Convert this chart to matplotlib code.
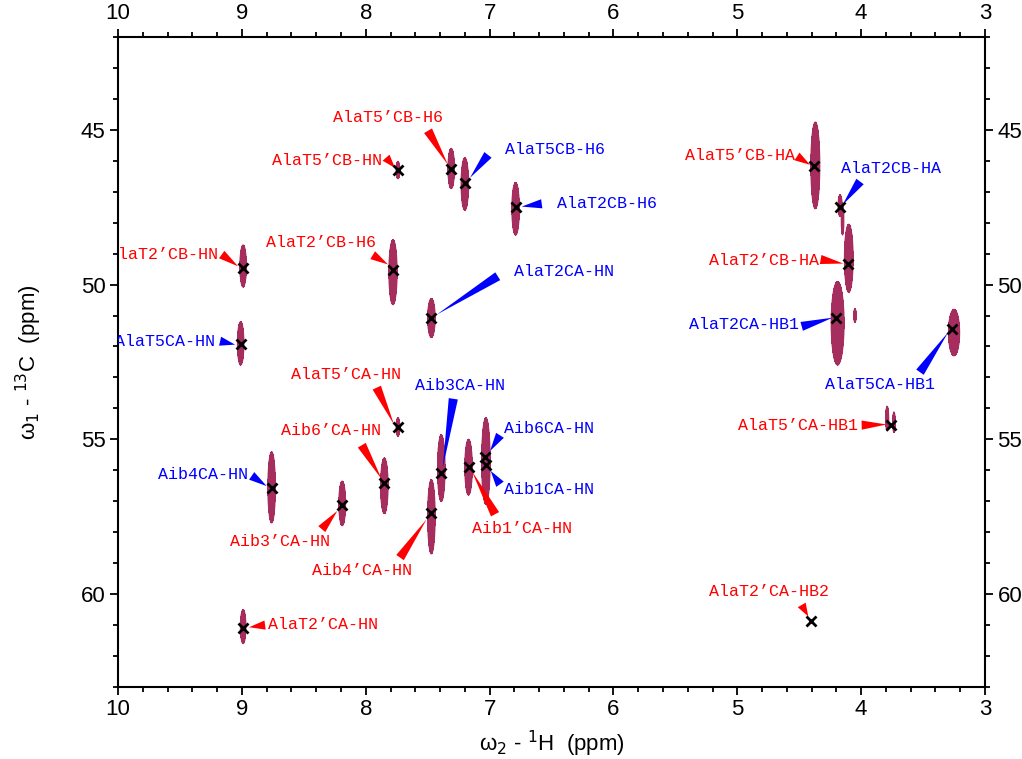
import numpy as np
import matplotlib
matplotlib.use("Agg")
import matplotlib.pyplot as plt
from matplotlib.ticker import MultipleLocator

# peak shapes: centre (1H, 13C) and half-extent of the outer contour (ppm)
peak_h  = [7.74, 7.31, 7.20, 6.79, 8.99, 7.78, 7.47, 9.01,
           4.37, 4.17, 4.15, 4.10, 4.19, 4.05, 3.25,
           7.74, 8.76, 8.19, 7.85, 7.47, 7.39, 7.17, 7.03,
           8.99, 3.79, 3.735]
peak_c  = [46.30, 46.25, 46.75, 47.55, 49.40, 49.60, 51.08, 51.90,
           46.15, 47.45, 47.90, 49.15, 51.25, 51.00, 51.55,
           54.60, 56.55, 57.07, 56.50, 57.50, 55.93, 55.90, 55.70,
           61.05, 54.33, 54.45]
peak_wh = [0.015, 0.026, 0.030, 0.030, 0.026, 0.033, 0.030, 0.026,
           0.036, 0.016, 0.010, 0.035, 0.052, 0.010, 0.045,
           0.015, 0.030, 0.027, 0.030, 0.030, 0.030, 0.030, 0.034,
           0.022, 0.012, 0.010]
peak_wc = [0.28, 0.65, 0.85, 0.85, 0.68, 1.05, 0.63, 0.70,
           1.40, 0.35, 0.50, 1.10, 1.35, 0.22, 0.75,
           0.30, 1.15, 0.72, 0.90, 1.20, 1.08, 0.90, 1.40,
           0.55, 0.40, 0.33]

# assignments: label, cross position, label centre, wedge start and tip
labels = ["AlaT5’CB-H6", "AlaT5’CB-HN", "AlaT5CB-H6", "AlaT2CB-H6",
          "AlaT2’CB-HN", "AlaT2’CB-H6", "AlaT2CA-HN", "AlaT5CA-HN",
          "AlaT5’CB-HA", "AlaT2CB-HA", "AlaT2’CB-HA", "AlaT2CA-HB1",
          "AlaT5CA-HB1", "AlaT5’CA-HB1", "AlaT2’CA-HB2", "AlaT5’CA-HN",
          "Aib3CA-HN", "Aib6’CA-HN", "Aib6CA-HN", "Aib1CA-HN",
          "Aib1’CA-HN", "Aib4CA-HN", "Aib3’CA-HN", "Aib4’CA-HN",
          "AlaT2’CA-HN"]
cross_h = [7.31, 7.74, 7.20, 6.79, 8.99, 7.78, 7.47, 9.01,
           4.38, 4.17, 4.11, 4.20, 3.27, 3.76, 4.405, 7.74,
           7.39, 7.855, 7.04, 7.03, 7.17, 8.76, 8.19, 7.47, 8.99]
cross_c = [46.26, 46.29, 46.72, 47.49, 49.46, 49.52, 51.08, 51.91,
           46.16, 47.50, 49.34, 51.08, 51.43, 54.54, 60.88, 54.60,
           56.08, 56.41, 55.57, 55.83, 55.89, 56.56, 57.12, 57.39, 61.11]
text_h  = [7.824, 8.313, 6.468, 6.052, 9.633, 8.361, 6.399, 9.617,
           4.982, 3.761, 4.787, 4.944, 3.848, 4.512, 4.748, 8.161,
           7.238, 8.282, 6.522, 6.522, 6.741, 9.315, 8.694, 8.032, 8.342]
text_c  = [44.61, 46.00, 45.65, 47.39, 49.04, 48.65, 49.57, 51.84,
           45.84, 46.24, 49.22, 51.29, 53.24, 54.54, 59.91, 52.90,
           53.25, 54.71, 54.65, 56.61, 57.87, 56.15, 58.31, 59.25, 60.99]
wedge_h = [7.497, 7.836, 7.013, 6.579, 9.163, 7.944, 6.934, 9.176,
           4.518, 4.009, 4.327, 4.480, 3.525, 3.996, 4.480, 7.911,
           7.293, 8.032, 6.916, 6.916, 6.956, 8.921, 8.355, 7.723, 8.813]
wedge_c = [45.03, 45.90, 45.81, 47.39, 49.03, 49.05, 49.73, 51.83,
           45.86, 46.67, 49.19, 51.35, 52.83, 54.54, 60.35, 53.33,
           53.69, 55.19, 54.87, 56.45, 57.42, 56.18, 57.90, 58.82, 61.00]
tip_h   = [7.336, 7.764, 7.158, 6.741, 9.031, 7.820, 7.427, 9.055,
           4.413, 4.149, 4.144, 4.230, 3.297, 3.794, 4.427, 7.772,
           7.378, 7.871, 6.997, 6.991, 7.144, 8.800, 8.229, 7.508, 8.942]
tip_c   = [46.13, 46.23, 46.55, 47.48, 49.41, 49.35, 50.97, 51.94,
           46.13, 47.42, 49.32, 51.07, 51.54, 54.52, 60.72, 54.52,
           55.91, 56.29, 55.38, 56.02, 56.02, 56.51, 57.31, 57.58, 61.07]

peak_color = "#A62E5E"

plt.rcParams['font.family'] = ['Liberation Sans', 'DejaVu Sans']

fig = plt.figure(figsize=(10.22, 7.59), dpi=100)
ax = fig.add_axes([0.1155, 0.0949, 0.8483, 0.8564])

# contour field built from the peak list
H, C = np.meshgrid(np.arange(3.0, 10.0, 0.003), np.arange(42.0, 63.0, 0.02))
Z = np.zeros_like(H)
k = np.sqrt(2 * np.log(1 / 0.05))
for h0, c0, wh, wc in zip(peak_h, peak_c, peak_wh, peak_wc):
    g = np.exp(-0.5 * ((H - h0) / (wh / k)) ** 2 - 0.5 * ((C - c0) / (wc / k)) ** 2)
    Z = np.maximum(Z, g)
ax.contourf(H, C, Z, levels=[0.05, 1.1], colors=[peak_color])
ax.contour(H, C, Z, levels=[0.05], colors=[peak_color], linewidths=0.8)

ax.plot(cross_h, cross_c, 'x', color='black', ms=7, mew=2, ls='none', zorder=5)

for i, lab in enumerate(labels):
    col = 'red' if '’' in lab else 'blue'
    ax.annotate('', xy=(tip_h[i], tip_c[i]), xytext=(wedge_h[i], wedge_c[i]),
                arrowprops=dict(arrowstyle='wedge,tail_width=0.55,shrink_factor=0.5',
                                fc=col, ec='none', shrinkA=0, shrinkB=0,
                                mutation_scale=12))
    ax.text(text_h[i], text_c[i], lab, color=col, ha='center', va='center',
            fontsize=12, family=['Liberation Mono', 'DejaVu Sans Mono'],
            clip_on=True)

ax.set_xlim(10, 3)
ax.set_ylim(63, 42)
ax.xaxis.set_major_locator(MultipleLocator(1))
ax.xaxis.set_minor_locator(MultipleLocator(0.2))
ax.yaxis.set_major_locator(MultipleLocator(5))
ax.yaxis.set_minor_locator(MultipleLocator(1))
ax.tick_params(which='both', direction='out', top=True, right=True,
               labeltop=True, labelright=True, labelsize=16, width=1.3)
ax.tick_params(which='major', length=6, pad=3)
ax.tick_params(which='minor', length=3.5)
for sp in ax.spines.values():
    sp.set_linewidth(1.5)

ax.set_xlabel('ω$_2$ - $^1$H  (ppm)', fontsize=16)
ax.set_ylabel('ω$_1$ - $^{13}$C  (ppm)', fontsize=16)
ax.xaxis.set_label_coords(0.5, -0.064)
ax.yaxis.set_label_coords(-0.085, 0.5)

fig.savefig('out.png', dpi=100)
